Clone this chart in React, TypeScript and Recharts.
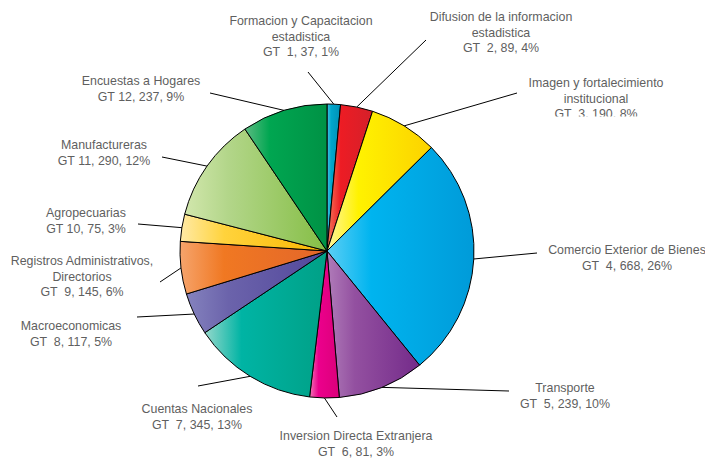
import React from "react";
import { PieChart, Pie, Cell } from "recharts";

const categories = [
  "Formacion y Capacitacion\nestadistica",
  "Difusion de la informacion\nestadistica",
  "Imagen y fortalecimiento\ninstitucional",
  "Comercio Exterior de Bienes",
  "Transporte",
  "Inversion Directa Extranjera",
  "Cuentas Nacionales",
  "Macroeconomicas",
  "Registros Administrativos,\nDirectorios",
  "Agropecuarias",
  "Manufactureras",
  "Encuestas a Hogares",
];
const groupNumbers = [1, 2, 3, 4, 5, 6, 7, 8, 9, 10, 11, 12];
const values = [37, 89, 190, 668, 239, 81, 345, 117, 145, 75, 290, 237];
const percents = [1, 4, 8, 26, 10, 3, 13, 5, 6, 3, 12, 9];

const lightColors = ["#45c3df", "#f47b5b", "#fff6a0", "#5ccff5", "#b07cb9", "#f177b6", "#95d8cb", "#8583be", "#f6a46c", "#ffeaa6", "#d2e7ad", "#5cbc82"];
const midColors = ["#00a6cc", "#ed1c24", "#fff200", "#00b4ef", "#9350a0", "#ec008c", "#00b4a4", "#6b63ab", "#f07822", "#ffd33c", "#b3d68a", "#00a651"];
const darkColors = ["#008fb5", "#d4202a", "#fcd200", "#009bd9", "#742b8a", "#db007a", "#00a086", "#52479b", "#e3662a", "#fab600", "#85be45", "#009245"];

// label placement (offsets from pie centre): text centre / leader-line end
const LABEL_LAYOUT = [
  { tx: -26, ty: -230, lx: -19, ly: -179 },
  { tx: 174, ty: -234, lx: 99, ly: -211 },
  { tx: 269, ty: -168, lx: 190, ly: -158, clipBottom: -134.5 },
  { tx: 300, ty: -1, lx: 210, ly: 2 },
  { tx: 238, ty: 137, lx: 182, ly: 140 },
  { tx: 29, ty: 185, lx: 10, ly: 166 },
  { tx: -130, ty: 158, lx: -129, ly: 135 },
  { tx: -256, ty: 75, lx: -190, ly: 66 },
  { tx: -245, ty: 10, lx: -167, ly: 31 },
  { tx: -241, ty: -38, lx: -189, ly: -27 },
  { tx: -223, ty: -106, lx: -165, ly: -94 },
  { tx: -186, ty: -170, lx: -117, ly: -158 },
];

const data = categories.map((c, i) => ({
  name: c,
  gt: groupNumbers[i],
  value: values[i],
  pct: percents[i],
}));

const RAD = Math.PI / 180;
const LINE_H = 15.5;

const renderLabel = (props: any) => {
  const { cx, cy, midAngle, outerRadius, index } = props;
  const d = data[index];
  const lay = LABEL_LAYOUT[index];
  const sx = cx + outerRadius * Math.cos(-midAngle * RAD);
  const sy = cy + outerRadius * Math.sin(-midAngle * RAD);
  const lines = d.name.split("\n");
  const gtLine = `GT ${d.gt < 10 ? " " : ""}${d.gt}, ${d.value}, ${d.pct}%`;
  const all = [...lines, gtLine];
  const clipId = `clip-lbl-${index}`;
  return (
    <g key={`lbl-${index}`}>
      {lay.clipBottom !== undefined && (
        <defs>
          <clipPath id={clipId}>
            <rect x={0} y={0} width={705} height={cy + lay.clipBottom} />
          </clipPath>
        </defs>
      )}
      <line x1={sx} y1={sy} x2={cx + lay.lx} y2={cy + lay.ly} stroke="#000" strokeWidth={1} />
      <text
        x={cx + lay.tx}
        y={cy + lay.ty}
        textAnchor="middle"
        fill="#5f5f5f"
        fontSize={12.4}
        fontFamily="'Liberation Sans', Arial, sans-serif"
        style={{ whiteSpace: "pre" }}
        clipPath={lay.clipBottom !== undefined ? `url(#${clipId})` : undefined}
      >
        {all.map((t, j) => (
          <tspan key={j} x={cx + lay.tx} y={cy + lay.ty + j * LINE_H} dy="0.35em">
            {t}
          </tspan>
        ))}
      </text>
    </g>
  );
};

export default function App() {
  return (
    <div style={{ position: "absolute", left: 0, top: 0, width: 705, height: 459, background: "#fff" }}>
      <PieChart width={705} height={459} margin={{ top: 0, right: 0, bottom: 0, left: 0 }}>
        <defs>
          {lightColors.map((lc, i) => (
            <linearGradient key={i} id={`grad${i}`} x1="0" y1="0" x2="1" y2="0">
              <stop offset="0%" stopColor={lc} />
              <stop offset="30%" stopColor={midColors[i]} />
              <stop offset="100%" stopColor={darkColors[i]} />
            </linearGradient>
          ))}
        </defs>
        <Pie
          data={data}
          dataKey="value"
          nameKey="name"
          cx={327}
          cy={251}
          outerRadius={147}
          startAngle={90}
          endAngle={-270}
          stroke="#000"
          strokeWidth={1}
          label={renderLabel}
          labelLine={false}
          isAnimationActive={false}
        >
          {data.map((_, i) => (
            <Cell key={i} fill={`url(#grad${i})`} stroke="#000" strokeWidth={1} />
          ))}
        </Pie>
      </PieChart>
    </div>
  );
}
